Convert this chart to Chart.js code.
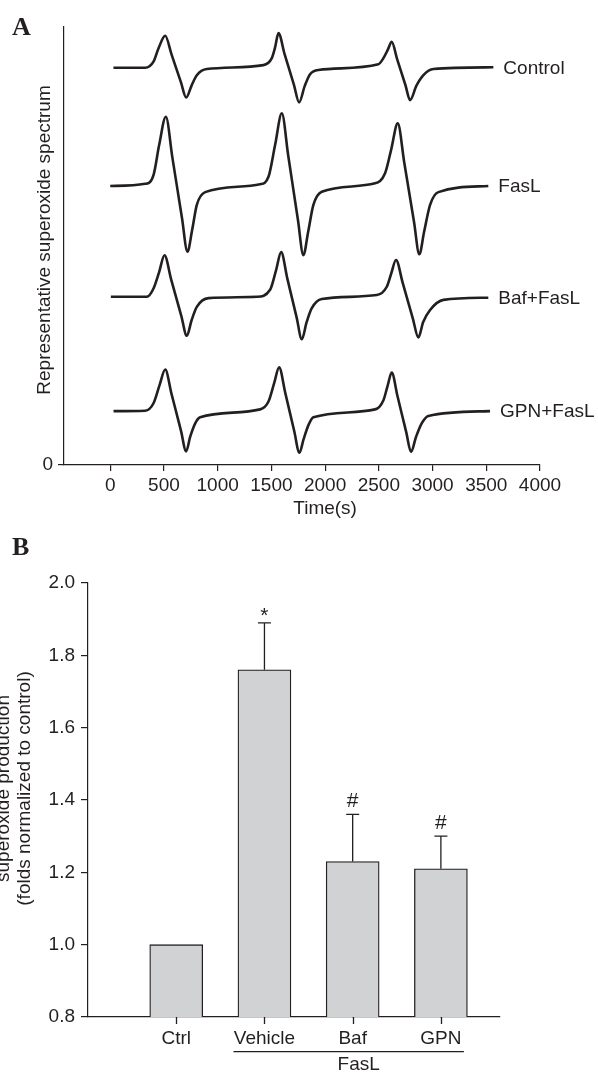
<!DOCTYPE html>
<html>
<head>
<meta charset="utf-8">
<script src="https://cdn.jsdelivr.net/npm/chart.js@4.4.1/dist/chart.umd.min.js"></script>
<style>
  body { margin: 0; background: #fff; }
  #wrap { position: relative; width: 598px; height: 1074px; }
  canvas { position: absolute; left: 0; }
  #spectrum { top: 0; }
  #bars { top: 530px; }
</style>
</head>
<body>
<div id="wrap">
  <canvas id="spectrum" width="598" height="530"></canvas>
  <canvas id="bars" width="598" height="544"></canvas>
</div>
<script>
// ---- Panel A: representative superoxide spectra (time in s, signal in a.u., traces stacked) ----
const controlTime   = [30, 326, 403, 449, 512, 570, 658, 707, 760, 806, 899, 1426, 1504, 1535, 1566, 1623, 1710, 1758, 1810, 1860, 1938, 2496, 2543, 2585, 2620, 2671, 2748, 2791, 2850, 2915, 3008, 3566];
const controlSignal = [90.7, 90.7, 92.1, 95.1, 98.0, 93.8, 87.4, 83.9, 86.8, 89.0, 90.4, 91.3, 92.9, 95.4, 98.6, 93.8, 86.8, 82.8, 86.5, 89.2, 90.2, 91.5, 92.9, 94.9, 96.6, 92.6, 86.7, 83.3, 86.6, 89.0, 90.4, 90.8];

const fasLTime   = [0, 326, 403, 456, 518, 578, 668, 719, 763, 806, 884, 1395, 1473, 1535, 1597, 1657, 1747, 1798, 1842, 1891, 1969, 2465, 2558, 2614, 2676, 2737, 2827, 2877, 2921, 2977, 3054, 3519];
const fasLSignal = [63.7, 64.2, 66.2, 73.1, 79.5, 70.3, 56.4, 48.7, 53.7, 59.4, 62.3, 64.1, 65.8, 73.1, 80.3, 70.6, 56.0, 47.9, 53.2, 59.4, 62.4, 64.3, 66.6, 71.9, 78.0, 69.0, 55.6, 48.1, 53.2, 59.4, 62.3, 63.7];

const bafTime   = [6, 341, 403, 456, 505, 567, 661, 713, 758, 806, 915, 1364, 1488, 1544, 1591, 1648, 1735, 1783, 1828, 1876, 1969, 2481, 2574, 2614, 2660, 2723, 2816, 2868, 2912, 2977, 3101, 3519];
const bafSignal = [38.4, 38.4, 40.3, 44.1, 47.9, 42.4, 34.1, 29.5, 33.1, 36.1, 38.1, 38.4, 40.0, 44.5, 48.6, 42.6, 33.7, 28.7, 32.6, 35.8, 37.9, 38.8, 40.7, 43.6, 46.8, 41.5, 33.5, 29.1, 32.6, 35.4, 37.7, 38.2];

const gpnTime   = [31, 326, 403, 460, 512, 570, 658, 707, 744, 791, 837, 1395, 1473, 1526, 1572, 1629, 1713, 1761, 1800, 1845, 1891, 2465, 2543, 2581, 2620, 2674, 2755, 2800, 2846, 2899, 2961, 3535];
const gpnSignal = [12.3, 12.4, 14.1, 18.3, 21.8, 16.3, 7.9, 3.1, 6.4, 9.5, 10.9, 12.7, 14.5, 18.7, 22.3, 16.5, 7.7, 2.8, 5.9, 9.1, 10.9, 12.7, 14.8, 18.0, 21.1, 15.7, 7.5, 3.0, 6.4, 9.5, 11.2, 12.3];

const traceNames = ['Control', 'FasL', 'Baf+FasL', 'GPN+FasL'];
const timeTicks = [0, 500, 1000, 1500, 2000, 2500, 3000, 3500, 4000];

// ---- Panel B: superoxide production, folds normalized to control ----
const groups = ['Ctrl', 'Vehicle', 'Baf', 'GPN'];
const foldChange = [1.0, 1.76, 1.23, 1.21];
const foldError = [0, 0.13, 0.13, 0.09];
const marks = ['', '*', '#', '#'];
const foldTicks = [0.8, 1.0, 1.2, 1.4, 1.6, 1.8, 2.0];

const ink = '#231f20';
const sans = "'Liberation Sans', Arial, sans-serif";
const serif = "'Liberation Serif', 'Times New Roman', serif";

const toPoints = (ts, ys) => ts.map((t, i) => ({ x: t, y: ys[i] }));
const traces = [
  toPoints(controlTime, controlSignal),
  toPoints(fasLTime, fasLSignal),
  toPoints(bafTime, bafSignal),
  toPoints(gpnTime, gpnSignal)
];

function axisStyle(tickLength) {
  return {
    grid: { drawOnChartArea: false, drawTicks: true, tickLength: tickLength, color: ink, lineWidth: 1.2, offset: false },
    border: { display: true, color: ink, width: 1.2 }
  };
}

function rotatedText(ctx, text, x, y) {
  ctx.save();
  ctx.translate(x, y);
  ctx.rotate(-Math.PI / 2);
  ctx.textAlign = 'center';
  ctx.textBaseline = 'alphabetic';
  ctx.fillText(text, 0, 0);
  ctx.restore();
}

// labels, titles for panel A
const spectrumText = {
  id: 'spectrumText',
  afterDraw(chart) {
    const { ctx, scales: { x } } = chart;
    ctx.save();
    ctx.fillStyle = ink;
    ctx.font = `19px ${sans}`;
    ctx.textBaseline = 'middle';
    ctx.textAlign = 'left';
    chart.data.datasets.forEach((ds, i) => {
      const pts = chart.getDatasetMeta(i).data;
      const last = pts[pts.length - 1];
      ctx.fillText(traceNames[i], last.x + 10, last.y + 1);
    });
    ctx.textAlign = 'center';
    ctx.fillText('Time(s)', x.getPixelForValue(2000), 509);
    rotatedText(ctx, 'Representative superoxide spectrum', 50, 240);
    ctx.font = `bold 26px ${serif}`;
    ctx.textAlign = 'left';
    ctx.textBaseline = 'alphabetic';
    ctx.fillText('A', 12, 35);
    ctx.restore();
  }
};

new Chart(document.getElementById('spectrum'), {
  type: 'line',
  data: {
    datasets: traces.map((pts, i) => ({ label: traceNames[i], data: pts }))
  },
  options: {
    responsive: false,
    animation: false,
    layout: { padding: { left: 0, right: 58, top: 27, bottom: 0 } },
    plugins: { legend: { display: false }, tooltip: { enabled: false } },
    elements: {
      point: { radius: 0 },
      line: { borderWidth: 2.6, borderColor: ink, cubicInterpolationMode: 'monotone', fill: false }
    },
    scales: {
      x: {
        type: 'linear', min: -430, max: 4000,
        afterBuildTicks: s => { s.ticks = timeTicks.map(v => ({ value: v })); },
        afterFit: s => { s.height = 65; },
        ticks: { color: ink, font: { family: sans, size: 19 }, padding: 3, autoSkip: false, maxRotation: 0,
                 callback: v => String(v) },
        ...axisStyle(6)
      },
      y: {
        min: 0, max: 100,
        afterBuildTicks: s => { s.ticks = [{ value: 0 }]; },
        afterFit: s => { s.width = 64; },
        ticks: { color: ink, font: { family: sans, size: 19 }, padding: 5, callback: v => String(v) },
        ...axisStyle(6)
      }
    }
  },
  plugins: [spectrumText]
});

// error bars + significance marks for panel B
const errorBars = {
  id: 'errorBars',
  afterDatasetsDraw(chart) {
    const { ctx, scales: { x, y } } = chart;
    ctx.save();
    ctx.strokeStyle = ink;
    ctx.fillStyle = ink;
    ctx.lineWidth = 1.3;
    ctx.font = `21px ${sans}`;
    ctx.textAlign = 'center';
    ctx.textBaseline = 'alphabetic';
    foldChange.forEach((v, i) => {
      if (!foldError[i]) return;
      const px = x.getPixelForValue(i + 1);
      const top = y.getPixelForValue(v + foldError[i]);
      ctx.beginPath();
      ctx.moveTo(px, y.getPixelForValue(v));
      ctx.lineTo(px, top);
      ctx.moveTo(px - 6.5, top);
      ctx.lineTo(px + 6.5, top);
      ctx.stroke();
      if (marks[i]) {
        const m = ctx.measureText(marks[i]);
        ctx.fillText(marks[i], px, top - 7 - m.actualBoundingBoxDescent);
      }
    });
    ctx.restore();
  }
};

const barText = {
  id: 'barText',
  afterDraw(chart) {
    const { ctx, chartArea, scales: { x } } = chart;
    ctx.save();
    ctx.fillStyle = ink;
    ctx.strokeStyle = ink;
    ctx.lineWidth = 1.3;
    // category tick marks under the axis
    ctx.beginPath();
    groups.forEach((g, i) => {
      const px = Math.round(x.getPixelForValue(i + 1)) + 0.5;
      ctx.moveTo(px, chartArea.bottom);
      ctx.lineTo(px, chartArea.bottom + 7);
    });
    ctx.stroke();
    // FasL bracket under Vehicle..GPN
    const left = x.getPixelForValue(2) - 31;
    const right = x.getPixelForValue(4) + 23;
    ctx.beginPath();
    ctx.moveTo(left, 521.7);
    ctx.lineTo(right, 521.7);
    ctx.stroke();
    ctx.font = `19px ${sans}`;
    ctx.textAlign = 'center';
    ctx.textBaseline = 'middle';
    ctx.fillText('FasL', x.getPixelForValue(3) + 6, 535);
    rotatedText(ctx, 'superoxide production', 8.5, 258.5);
    rotatedText(ctx, '(folds normalized to control)', 29.5, 258.5);
    ctx.font = `bold 26px ${serif}`;
    ctx.textAlign = 'left';
    ctx.textBaseline = 'alphabetic';
    ctx.fillText('B', 12, 25);
    ctx.restore();
  }
};

new Chart(document.getElementById('bars'), {
  type: 'bar',
  data: {
    datasets: [{
      data: groups.map((g, i) => ({ x: i + 1, y: foldChange[i] })),
      backgroundColor: '#d1d2d4',
      borderColor: ink,
      borderWidth: 1.3,
      borderSkipped: 'start',
      barThickness: 53
    }]
  },
  options: {
    responsive: false,
    animation: false,
    layout: { padding: { left: 0, right: 98, top: 53, bottom: 0 } },
    plugins: { legend: { display: false }, tooltip: { enabled: false } },
    scales: {
      x: {
        type: 'linear', min: 0, max: 4.67, offset: false,
        afterBuildTicks: s => { s.ticks = groups.map((g, i) => ({ value: i + 1 })); },
        afterFit: s => { s.height = 57; },
        ticks: { color: ink, font: { family: sans, size: 19 }, padding: 10, autoSkip: false, maxRotation: 0,
                 callback: v => groups[v - 1] },
        ...axisStyle(0)
      },
      y: {
        min: 0.8, max: 2.0,
        afterBuildTicks: s => { s.ticks = foldTicks.map(v => ({ value: v })); },
        afterFit: s => { s.width = 88; },
        ticks: { color: ink, font: { family: sans, size: 19 }, padding: 6, callback: v => v.toFixed(1) },
        ...axisStyle(7)
      }
    }
  },
  plugins: [errorBars, barText]
});
</script>
</body>
</html>
